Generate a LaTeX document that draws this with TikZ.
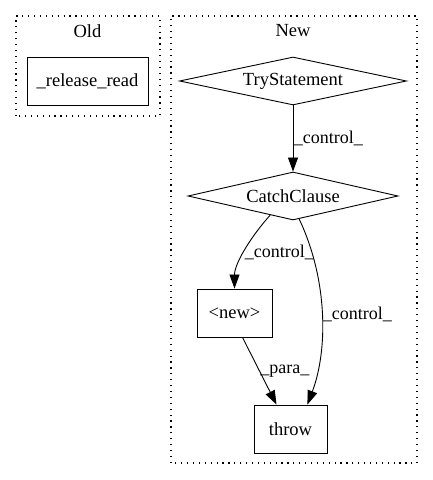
\documentclass[tikz,border=0pt]{standalone}
\usepackage{fontspec}
\setmainfont{Liberation Serif}
\usetikzlibrary{shapes.geometric,arrows.meta}

\tikzset{every picture/.style={line width=0.9pt}}
\tikzset{
  cluster/.style={draw, line width=1.2pt, dash pattern=on 1.2pt off 4.7pt},
  stmt/.style={draw, rectangle, minimum height=48pt, inner sep=0pt, font=\fontsize{18.5}{22}\selectfont},
  cond/.style={draw, diamond, aspect=4.5, inner sep=0pt, minimum height=48pt, font=\fontsize{18.5}{22}\selectfont},
  edge/.style={-{Triangle[length=14pt,width=10pt]}},
  elabel/.style={anchor=west, inner sep=0.5pt, font=\fontsize{18}{22}\selectfont}
}

\begin{document}
\begin{tikzpicture}[x=1pt,y=1pt]
\useasboundingbox (0,0) rectangle (432,480);

%Clusters
\draw [cluster] (16,364) rectangle (160,464);
\draw [cluster] (171,17) rectangle (417,464);
% Text Node
\node (oldlbl) [font=\fontsize{18.5}{22}\selectfont] at (87.5,449) {Old};
% Text Node
\node (newlbl) [font=\fontsize{18.5}{22}\selectfont] at (293,449) {New};

%Nodes
\node (release) [stmt, minimum width=121pt] at (87.5,399) {\_release\_read};
\node (try) [cond, minimum width=227pt] at (293,399) {TryStatement};
\node (catch) [cond, minimum width=210pt] at (293,284) {CatchClause};
\node (new) [stmt, minimum width=75pt] at (234.5,167) {<new>};
\node (throw) [stmt, minimum width=73pt] at (290.5,51) {throw};

%Edges
\draw [edge] (try) -- (catch) node [elabel, midway] {\_control\_};
\draw [edge] (catch.-140) .. controls (248,240) and (234.5,215) .. (new.north) node [elabel, pos=0.5] {\_control\_};
\draw [edge] (catch.-75) .. controls (328,200) and (328,130) .. ([xshift=-20pt]throw.north east) node [elabel, pos=0.5] {\_control\_};
\draw [edge] ([xshift=8pt]new.south) -- ([xshift=-14pt]throw.north) node [elabel, midway] {\_para\_};

\end{tikzpicture}
\end{document}
